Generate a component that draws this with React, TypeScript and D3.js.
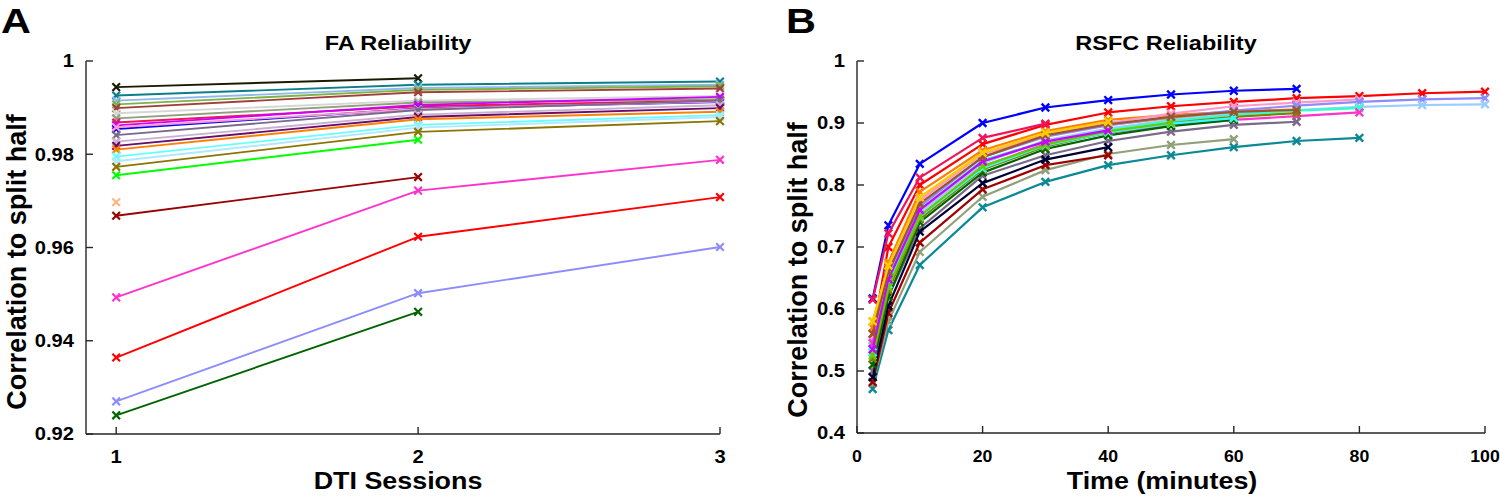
import React from "react";
import * as d3 from "d3";

// ---------- Panel A data (FA reliability vs DTI sessions) ----------
const sessions = [1, 2, 3];
const faColors = [
  "#1a1a00", "#0b7e8a", "#8fb8f0", "#7cb342", "#a0403a", "#d6d6d6", "#8fa07a",
  "#f0145a", "#cc00ff", "#0000ff", "#ff99cc", "#7a6a8a", "#c8b0d0", "#6a0d6a",
  "#ff8000", "#66ffff", "#b0e8ff", "#8b7500", "#00ff00", "#ffb380", "#990000",
  "#ff33cc", "#ff0000", "#8c8cff", "#006400",
];
const faValues: number[][] = [
  [0.9944, 0.9963],
  [0.9926, 0.9949, 0.9956],
  [0.9915, 0.9942, 0.9949],
  [0.9907, 0.9938, 0.9946],
  [0.9899, 0.9933, 0.9941],
  [0.9888, 0.9915, 0.9925],
  [0.9877, 0.9911, 0.9918],
  [0.9868, 0.9903, 0.9915],
  [0.9862, 0.9906, 0.9923],
  [0.9854, 0.9898, 0.9912],
  [0.9858, 0.9897, 0.9913],
  [0.9841, 0.9895, 0.9915],
  [0.9827, 0.9885, 0.9905],
  [0.9818, 0.988, 0.9899],
  [0.981, 0.9875, 0.9891],
  [0.9795, 0.9863, 0.9884],
  [0.9785, 0.9857, 0.988],
  [0.9773, 0.9848, 0.9871],
  [0.9755, 0.9831],
  [0.9697],
  [0.9668, 0.9751],
  [0.9493, 0.9722, 0.9788],
  [0.9364, 0.9623, 0.9708],
  [0.927, 0.9502, 0.9601],
  [0.924, 0.9462],
];
const faYTicks = [0.92, 0.94, 0.96, 0.98, 1];
const faYTickLabels = ["0.92", "0.94", "0.96", "0.98", "1"];
const faXTicks = [1, 2, 3];

// ---------- Panel B data (RSFC reliability vs time) ----------
const minutes = [2.5, 5, 10, 20, 30, 40, 50, 60, 70, 80, 90, 100];
const rsColors = [
  "#0000ff", "#ff0000", "#ff8000", "#e6a000", "#ff99cc", "#8c8cff", "#99ccff",
  "#33ffcc", "#ff33cc", "#7a6a8a", "#0b8a96", "#8fa07a", "#a00000", "#000033",
  "#006400", "#808000", "#33ffff", "#66cc00", "#cc00ff", "#a0522d", "#ffcc00",
  "#f0145a",
];
const rsValues: number[][] = [
  [0.617, 0.735, 0.834, 0.9, 0.925, 0.937, 0.946, 0.952, 0.955],
  [0.56, 0.7, 0.8, 0.866, 0.897, 0.917, 0.927, 0.934, 0.94, 0.9435, 0.948, 0.9505],
  [0.57, 0.675, 0.789, 0.856, 0.887, 0.905, 0.913, 0.918, 0.922],
  [0.58, 0.67, 0.78, 0.85, 0.88, 0.897, 0.908, 0.915],
  [0.55, 0.66, 0.775, 0.85, 0.883, 0.9, 0.915, 0.927, 0.933, 0.938],
  [0.545, 0.655, 0.765, 0.845, 0.878, 0.896, 0.91, 0.92, 0.928, 0.934, 0.938, 0.94],
  [0.535, 0.645, 0.755, 0.835, 0.872, 0.891, 0.905, 0.915, 0.921, 0.926, 0.929, 0.93],
  [0.54, 0.65, 0.76, 0.84, 0.87, 0.888, 0.903, 0.913, 0.92, 0.924],
  [0.545, 0.64, 0.75, 0.83, 0.866, 0.884, 0.897, 0.905, 0.911, 0.917],
  [0.5, 0.62, 0.73, 0.815, 0.848, 0.871, 0.886, 0.897, 0.902],
  [0.471, 0.566, 0.671, 0.764, 0.805, 0.832, 0.848, 0.861, 0.871, 0.876],
  [0.48, 0.58, 0.692, 0.781, 0.824, 0.85, 0.8645, 0.874],
  [0.482, 0.5935, 0.707, 0.793, 0.832, 0.848],
  [0.49, 0.605, 0.7247, 0.803, 0.841, 0.861],
  [0.51, 0.62, 0.74, 0.82, 0.858, 0.88, 0.895, 0.905],
  [0.52, 0.63, 0.745, 0.825, 0.862, 0.885, 0.9, 0.91, 0.916],
  [0.53, 0.64, 0.749, 0.827, 0.864, 0.885, 0.899, 0.908],
  [0.525, 0.635, 0.75, 0.83, 0.865, 0.887, 0.9],
  [0.535, 0.648, 0.76, 0.838, 0.87, 0.888],
  [0.56, 0.66, 0.77, 0.845, 0.88, 0.898, 0.91, 0.918, 0.921],
  [0.58, 0.67, 0.78, 0.852, 0.884, 0.902],
  [0.615, 0.722, 0.812, 0.876, 0.899],
];
const rsYTicks = [0.4, 0.5, 0.6, 0.7, 0.8, 0.9, 1];
const rsYTickLabels = ["0.4", "0.5", "0.6", "0.7", "0.8", "0.9", "1"];
const rsXTicks = [0, 20, 40, 60, 80, 100];

const FONT = "'Liberation Sans', Arial, Helvetica, sans-serif";
const AXIS = "#262626";
const SX = 1.12;

function T(props: {
  x: number; y: number; size: number; anchor?: string; children: React.ReactNode; dy?: string; sx?: number;
}) {
  const sx = props.sx ?? SX;
  return (
    <text
      transform={`translate(${props.x},${props.y}) scale(${sx},1)`}
      textAnchor={props.anchor || "middle"}
      fontFamily={FONT}
      fontWeight="bold"
      fontSize={props.size}
      dy={props.dy}
      fill="#000"
    >
      {props.children}
    </text>
  );
}

function Marker({ x, y, color, s = 4, w = 1.8 }: { x: number; y: number; color: string; s?: number; w?: number }) {
  return (
    <path
      d={`M${x - s},${y - s}L${x + s},${y + s}M${x - s},${y + s}L${x + s},${y - s}`}
      stroke={color}
      strokeWidth={w}
      fill="none"
    />
  );
}

function Panel(props: {
  xs: number[]; values: number[][]; colors: string[];
  x: d3.ScaleLinear<number, number>; y: d3.ScaleLinear<number, number>;
  xTicks: number[]; yTicks: number[]; yTickLabels: string[];
  lineW: number; markS: number; markW: number; xTickBase: number; yLabelRight: number;
  xTickSize: number; xTickSx: number;
}) {
  const { xs, values, colors, x, y } = props;
  const [x0, x1] = x.range();
  const [y0, y1] = y.range(); // y0 bottom
  const line = d3.line<number>().x((_, i) => x(xs[i])).y((v) => y(v));
  return (
    <g>
      {values.map((vals, si) => (
        <g key={si}>
          {vals.length > 1 && (
            <path d={line(vals) || ""} fill="none" stroke={colors[si]} strokeWidth={props.lineW} strokeLinejoin="round" />
          )}
          {vals.map((v, i) => (
            <Marker key={i} x={x(xs[i])} y={y(v)} color={colors[si]} s={props.markS} w={props.markW} />
          ))}
        </g>
      ))}
      {/* axes */}
      <line x1={x0} x2={x0} y1={y0} y2={y1} stroke={AXIS} strokeWidth={1.4} />
      <line x1={x0} x2={x1} y1={y0} y2={y0} stroke={AXIS} strokeWidth={1.4} />
      {props.yTicks.map((t, i) => (
        <g key={"yt" + i}>
          <line x1={x0} x2={x0 + 7} y1={y(t)} y2={y(t)} stroke={AXIS} strokeWidth={1.4} />
          <T x={props.yLabelRight} y={y(t)} size={18} anchor="end" dy="0.36em">
            {props.yTickLabels[i]}
          </T>
        </g>
      ))}
      {props.xTicks.map((t, i) => (
        <g key={"xt" + i}>
          <line x1={x(t)} x2={x(t)} y1={y0} y2={y0 - 7} stroke={AXIS} strokeWidth={1.4} />
          <T x={x(t)} y={props.xTickBase} size={props.xTickSize} sx={props.xTickSx}>
            {String(t)}
          </T>
        </g>
      ))}
    </g>
  );
}

export default function App() {
  const xA = d3.scaleLinear().domain([0.9, 3]).range([86, 720]);
  const yA = d3.scaleLinear().domain([0.92, 1]).range([434, 61]);
  const xB = d3.scaleLinear().domain([0, 100]).range([857, 1485]);
  const yB = d3.scaleLinear().domain([0.4, 1]).range([433, 61]);
  return (
    <svg
      width={1500}
      height={496}
      style={{ position: "absolute", left: 0, top: 0, background: "#fff" }}
    >
      <rect width={1500} height={496} fill="#fff" />
      <Panel
        xs={sessions} values={faValues} colors={faColors} x={xA} y={yA}
        xTicks={faXTicks} yTicks={faYTicks} yTickLabels={faYTickLabels}
        lineW={1.9} markS={3.8} markW={2.2} xTickBase={463} yLabelRight={74}
        xTickSize={18} xTickSx={1.12}
      />
      <Panel
        xs={minutes} values={rsValues} colors={rsColors} x={xB} y={yB}
        xTicks={rsXTicks} yTicks={rsYTicks} yTickLabels={rsYTickLabels}
        lineW={2.2} markS={3.8} markW={2.4} xTickBase={462} yLabelRight={845}
        xTickSize={17} xTickSx={1.04}
      />
      {/* panel letters */}
      <T x={1} y={33} size={36} anchor="start" sx={1.15}>A</T>
      <T x={786} y={33} size={36} anchor="start" sx={1.15}>B</T>
      {/* titles */}
      <T x={398} y={50} size={21}>FA Reliability</T>
      <T x={1166} y={50} size={21}>RSFC Reliability</T>
      {/* x labels */}
      <T x={398} y={489} size={24}>DTI Sessions</T>
      <T x={1162} y={489} size={24}>Time (minutes)</T>
      {/* y labels */}
      <text
        transform="translate(26,262) rotate(-90)"
        textAnchor="middle" fontFamily={FONT} fontWeight="bold" fontSize={27}
      >
        Correlation to split half
      </text>
      <text
        transform="translate(807,270) rotate(-90)"
        textAnchor="middle" fontFamily={FONT} fontWeight="bold" fontSize={27}
      >
        Correlation to split half
      </text>
    </svg>
  );
}
